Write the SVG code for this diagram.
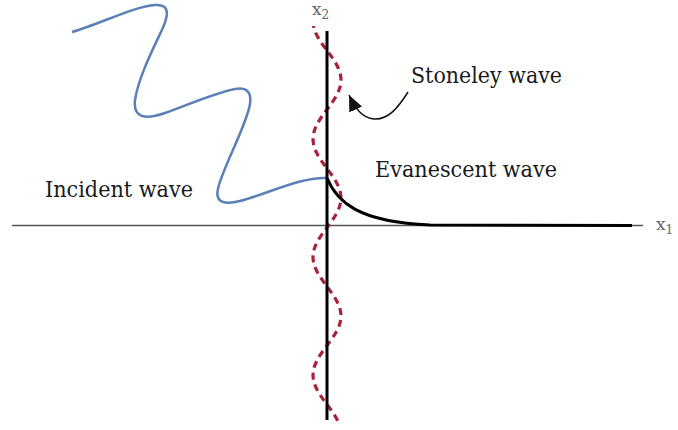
<svg xmlns="http://www.w3.org/2000/svg" width="678" height="430" viewBox="0 0 678 430">
<style>
.lbl{font-family:"DejaVu Serif",serif;font-size:22px;fill:#1a1a1a}
.ax{font-family:"DejaVu Serif",serif;font-size:17px;fill:#666}
.sub{font-size:12px}
.axis{stroke:#555;stroke-width:1.5;fill:none}
</style>
<defs>
<marker id="ah" markerUnits="userSpaceOnUse" markerWidth="18" markerHeight="14" refX="16" refY="7" orient="auto">
<path d="M0,0 L16,7 L0,14 z" fill="#111"/>
</marker>
<clipPath id="clipv"><rect x="290" y="26" width="80" height="396"/></clipPath>
</defs>
<rect width="678" height="430" fill="#fff"/>
<g id="axes">
<line class="axis" x1="12" y1="225.5" x2="643" y2="225.5"/>
<text class="ax" x="312" y="15">x<tspan class="sub" dy="4">2</tspan></text>
<text class="ax" x="656" y="230">x<tspan class="sub" dy="4">1</tspan></text>
</g>
<g id="incident-wave">
<path d="M72,32 C100,24 135,6 155,5 C172,4 168,18 160,34 C150,55 138,80 135,100 C133,118 145,120 165,113 C190,104 215,93 235,89 C252,86 253,98 247,115 C240,137 225,165 219,185 C214,200 220,206 240,201 C270,193 300,177 327,178" fill="none" stroke="#5b80b8" stroke-width="2.5"/>
<text class="lbl" x="45" y="197" textLength="148" lengthAdjust="spacingAndGlyphs">Incident wave</text>
</g>
<g id="stoneley-wave">
<path clip-path="url(#clipv)" d="M313,21 C313,42.5 341,58.5 341,80 C341,101.5 313,117.5 313,139 C313,160.5 341,176.5 341,198 C341,219.5 313,235.5 313,257 C313,278.5 341,294.5 341,316 C341,337.5 313,353.5 313,375 C313,396.5 341,412.5 341,434" fill="none" stroke="#a8213a" stroke-width="3.2" stroke-dasharray="7 5"/>
<text class="lbl" x="411" y="83" textLength="151" lengthAdjust="spacingAndGlyphs">Stoneley wave</text>
</g>
<g id="boundary">
<line x1="327" y1="31" x2="327" y2="420" stroke="#000" stroke-width="3"/>
</g>
<g id="evanescent-wave">
<path d="M327,178 C337,202 358,222 430,225 L632,225.5" fill="none" stroke="#000" stroke-width="3"/>
<text class="lbl" x="375" y="177" textLength="182" lengthAdjust="spacingAndGlyphs">Evanescent wave</text>
</g>
<g id="connectors">
<path d="M408,92 C398,108 388,120 374,119 C362,118 355,108 349,95" fill="none" stroke="#111" stroke-width="1.5" marker-end="url(#ah)"/>
</g>
</svg>
